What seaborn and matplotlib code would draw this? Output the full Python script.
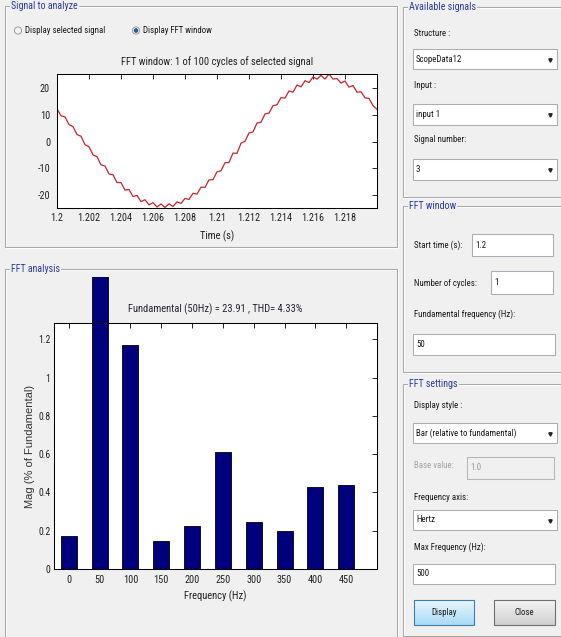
import numpy as np
import pandas as pd
import matplotlib
matplotlib.use("Agg")
import matplotlib.pyplot as plt
import seaborn as sns
from matplotlib import font_manager as fm
from matplotlib.patches import Rectangle, Circle
from matplotlib.transforms import Bbox, TransformedBbox

# ---------------- data ----------------
# One cycle of the selected signal (FFT window), sampled every 0.25 ms from t = 1.2 s
t_start = 1.2
t_step = 0.00025
signal = [
    12.2, 9.6, 9.2, 6.3, 5.6, 2.6, 2.0, -1.2, -1.9, -5.0,
    -5.6, -8.7, -9.1, -12.1, -12.4, -15.3, -15.3, -18.1, -17.9, -20.5,
    -20.1, -22.4, -21.7, -23.6, -22.8, -24.4, -23.3, -24.6, -23.2, -24.2,
    -22.5, -23.1, -21.2, -21.6, -19.3, -19.6, -17.0, -17.1, -14.3, -14.2,
    -11.3, -10.9, -7.9, -7.8, -4.3, -4.4, -0.6, 0.1, 3.2, 3.6,
    6.9, 7.2, 10.3, 10.6, 13.4, 13.7, 16.4, 16.2, 18.9, 18.4,
    21.1, 20.4, 22.7, 22.0, 24.1, 23.3, 24.7, 23.3, 25.2, 23.3,
    23.5, 21.8, 22.6, 20.3, 20.9, 18.4, 18.6, 16.3, 16.1, 13.4,
    12.0,
]

# Harmonic spectrum, magnitude in % of the fundamental
fundamental_hz = 50
freq_hz = [0, 50, 100, 150, 200, 250, 300, 350, 400, 450]
mag_pct = [0.173, 100.0, 1.169, 0.146, 0.227, 0.610, 0.248, 0.198, 0.428, 0.439]

time_ticks = [1.2, 1.202, 1.204, 1.206, 1.208, 1.21, 1.212, 1.214, 1.216, 1.218]
time_tick_labels = ["1.2", "1.202", "1.204", "1.206", "1.208", "1.21", "1.212", "1.214", "1.216", "1.218"]
wave_ticks = [-20, -10, 0, 10, 20]
wave_tick_labels = ["-20", "-10", "0", "10", "20"]
mag_ticks = [0, 0.2, 0.4, 0.6, 0.8, 1.0, 1.2]
mag_tick_labels = ["0", "0.2", "0.4", "0.6", "0.8", "1", "1.2"]

# ---------------- fonts / canvas ----------------
def first_font(cands, default):
    have = {f.name for f in fm.fontManager.ttflist}
    for c in cands:
        if c in have:
            return c
    return default

NARROW = first_font(["Liberation Sans Narrow", "Arial Narrow", "Roboto Condensed",
                     "Open Sans Condensed", "DejaVu Sans Condensed"], "Liberation Sans")
WIDE = first_font(["Liberation Sans", "Arial"], "DejaVu Sans")

sns.set_style("white")
plt.rcParams["font.family"] = [NARROW, "DejaVu Sans"]

W, H = 561, 637
BG = "#f0f0f0"
TITLE_BLUE = "#2b3a9e"
TXT = "#1a1a1a"
UI_FS = 6.4

fig = plt.figure(figsize=(W / 100, H / 100), dpi=100, facecolor=BG)

# pixel-space layer for the dialog chrome
ui = fig.add_axes([0, 0, 1, 1], zorder=0)
ui.set_facecolor(BG)
ui.axis("off")


def panel(x0, y0, x1, y1, title):
    for off, col in ((1, "white"), (0, "#a9a9a9")):
        ui.add_patch(Rectangle((x0 + off, y0 + off), x1 - x0, y1 - y0,
                               fill=False, ec=col, lw=0.75))
    ui.text(x0 + 6, y0, title, color=TITLE_BLUE, fontsize=7.2, va="center", ha="left",
            bbox=dict(fc=BG, ec="none", pad=0.8))


def label(x, y, s, color=TXT, fs=UI_FS, ha="left"):
    ui.text(x, y, s, color=color, fontsize=fs, va="center", ha=ha)


def field(x0, y0, x1, y1, s, dropdown=False, disabled=False):
    ui.add_patch(Rectangle((x0, y0), x1 - x0, y1 - y0,
                           fc=BG if disabled else "white",
                           ec="#b5b5b5" if disabled else "#abadb3", lw=0.75))
    label(x0 + 3, (y0 + y1) / 2, s, color="#9a9a9a" if disabled else TXT)
    if dropdown:
        ui.plot([x1 - 7], [(y0 + y1) / 2 + 0.5], marker="v", ms=2.4, color="#222222", mec="#222222")


def button(x0, y0, x1, y1, s, top, bottom, edge):
    grad = np.linspace(0, 1, 32)[:, None, None]
    c0 = np.array(matplotlib.colors.to_rgb(top))
    c1 = np.array(matplotlib.colors.to_rgb(bottom))
    img = (1 - grad) * c0 + grad * c1
    ui.imshow(img, extent=[x0, x1, y1, y0], aspect="auto", origin="upper", zorder=1)
    ui.add_patch(Rectangle((x0, y0), x1 - x0, y1 - y0, fill=False, ec=edge, lw=0.8, zorder=2))
    ui.text((x0 + x1) / 2, (y0 + y1) / 2, s, color=TXT, fontsize=UI_FS, ha="center", va="center", zorder=3)


# panels
panel(5, 6, 397, 247, "Signal to analyze")
panel(5, 269, 397, 660, "FFT analysis")
panel(403, 7, 580, 197, "Available signals")
panel(403, 206, 580, 372, "FFT window")
panel(403, 384, 580, 636, "FFT settings")

# radio buttons
ui.add_patch(Circle((18, 30.5), 3.6, fc="#f4f4f4", ec="#8e8f8f", lw=0.6))
label(25, 30.5, "Display selected signal")
ui.add_patch(Circle((136, 30.5), 3.6, fc="#f4f4f4", ec="#8e8f8f", lw=0.6))
ui.add_patch(Circle((136, 30.5), 1.9, fc="#1f5fa8", ec="#0f3d74", lw=0.4))
label(143, 30.5, "Display FFT window")

# right-hand controls
label(414, 33, "Structure :")
field(413, 49, 557, 69, "ScopeData12", dropdown=True)
label(414, 86, "Input :")
field(413, 104, 557, 125, "input 1", dropdown=True)
label(414, 139, "Signal number:")
field(413, 159, 557, 180, "3", dropdown=True)

label(414, 245, "Start time (s):")
field(472, 234, 553, 256, "1.2")
label(414, 283, "Number of cycles:")
field(491, 271, 553, 294, "1")
label(414, 314, "Fundamental frequency (Hz):")
field(413, 334, 555, 355, "50")

label(414, 406, "Display style :")
field(413, 423, 557, 443, "Bar (relative to fundamental)", dropdown=True)
label(414, 465, "Base value:", color="#a3a3a3")
field(467, 457, 554, 479, "1.0", disabled=True)
label(414, 497, "Frequency axis:")
field(413, 510, 557, 530, "Hertz", dropdown=True)
label(414, 547, "Max Frequency (Hz):")
field(413, 564, 555, 584, "500")

button(414, 600, 474, 625, "Display", "#eaf6fd", "#a9dbf6", "#3c7fb1")
button(494, 600, 555, 625, "Close", "#f4f4f4", "#d0d0d0", "#707070")

ui.set_xlim(0, W)
ui.set_ylim(H, 0)


# ---------------- data axes ----------------
def px_axes(l, t, r, b):
    return fig.add_axes([l / W, 1 - b / H, (r - l) / W, (b - t) / H], zorder=2)


def style_axes(ax, ypad):
    ax.set_facecolor("white")
    for sp in ax.spines.values():
        sp.set_visible(True)
        sp.set_color("black")
        sp.set_linewidth(0.75)
    ax.tick_params(direction="in", length=3.5, width=0.6, top=True, right=True,
                   labelsize=7.4, labelcolor="#222222", color="black")
    ax.tick_params(axis="x", pad=4)
    ax.tick_params(axis="y", pad=ypad)


# waveform of the FFT window
ax_t = px_axes(57, 74, 377, 207.5)
wave = pd.DataFrame({"t": t_start + t_step * np.arange(len(signal)), "v": signal})
sns.lineplot(data=wave, x="t", y="v", ax=ax_t, color="#c8232c", lw=0.9)
ax_t.set_xlim(1.2, 1.22)
ax_t.set_ylim(min(signal), max(signal))
ax_t.set_xticks(time_ticks, time_tick_labels)
ax_t.set_yticks(wave_ticks, wave_tick_labels)
style_axes(ax_t, 5)
ax_t.set_title("FFT window: 1 of 100 cycles of selected signal", fontsize=7.6,
               color="#222222", pad=6.5)
ax_t.set_xlabel("Time (s)", fontsize=7.6, color="#222222")
ax_t.xaxis.set_label_coords(0.5, -0.17)
ax_t.set_ylabel("")

# harmonic spectrum
ax_f = px_axes(54, 323, 377, 569)
spec = pd.DataFrame({"f": freq_hz, "m": mag_pct})
sns.barplot(data=spec, x="f", y="m", ax=ax_f, native_scale=True, width=0.52,
            color="#00007f", saturation=1, edgecolor="black", linewidth=0.6)
harm_max = max(m for f, m in zip(freq_hz, mag_pct) if f != fundamental_hz)
ax_f.set_xlim(-24, 500)
ax_f.set_ylim(0, 1.1 * harm_max)
ax_f.set_xticks(freq_hz, [str(f) for f in freq_hz])
ax_f.set_yticks(mag_ticks, mag_tick_labels)
style_axes(ax_f, 2.5)
ax_f.tick_params(axis="y", labelsize=7.0)
ax_f.set_title("Fundamental (50Hz) = 23.91 , THD= 4.33%", fontsize=7.6,
               color="#2a2233", pad=7.5)
ax_f.set_xlabel("Frequency (Hz)", fontsize=7.6, color="#222222")
ax_f.xaxis.set_label_coords(0.5, -0.088)
ax_f.set_ylabel("Mag (% of Fundamental)", fontfamily=WIDE, fontsize=8.0, color="#333333")
ax_f.yaxis.set_label_coords(-0.06, 0.5)

# the fundamental bar runs past the axes and is cut off by the panel frame
clip = TransformedBbox(Bbox.from_extents(54 / W, 1 - 569 / H, 377 / W, 1 - 277 / H), fig.transFigure)
for p in ax_f.patches:
    if abs(p.get_x() + p.get_width() / 2 - fundamental_hz) < 1:
        p.set_clip_box(clip)
        p.set_clip_on(True)

fig.savefig("out.png", dpi=100, facecolor=BG)
